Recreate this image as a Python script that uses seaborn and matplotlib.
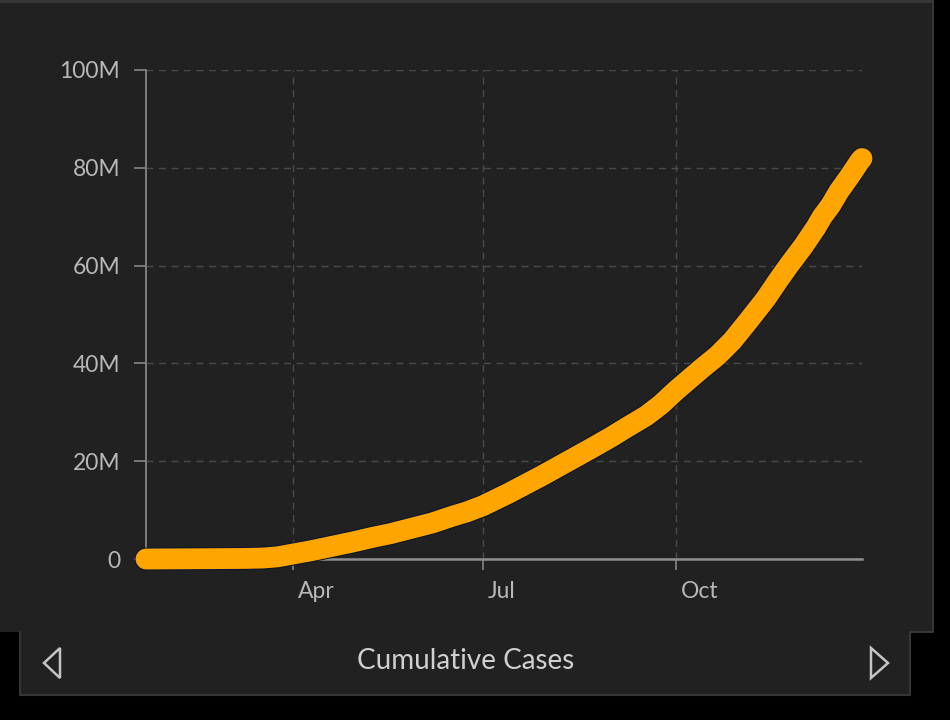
import matplotlib
matplotlib.use("Agg")
import matplotlib.pyplot as plt
import matplotlib.patheffects as pe
from matplotlib.patches import Rectangle, Polygon
from matplotlib.lines import Line2D
from matplotlib.transforms import ScaledTranslation
import pandas as pd
import seaborn as sns

# ---- data ----
dates = ["2020-01-22", "2020-02-10", "2020-03-01", "2020-03-10", "2020-03-18",
         "2020-03-25", "2020-04-01", "2020-04-10", "2020-04-20", "2020-04-30",
         "2020-05-09", "2020-05-18", "2020-05-28", "2020-06-07", "2020-06-16",
         "2020-06-23", "2020-07-01", "2020-07-13", "2020-07-21", "2020-07-29",
         "2020-08-06", "2020-08-14", "2020-08-22", "2020-08-31", "2020-09-08",
         "2020-09-17", "2020-09-24", "2020-10-01", "2020-10-07", "2020-10-13",
         "2020-10-21", "2020-10-28", "2020-11-04", "2020-11-13", "2020-11-19",
         "2020-11-24", "2020-12-01", "2020-12-07", "2020-12-10", "2020-12-14",
         "2020-12-18", "2020-12-23", "2020-12-28", "2020-12-29"]
cases_millions = [0.0, 0.04, 0.09, 0.12, 0.2,
                  0.45, 1.0, 1.7, 2.6, 3.5,
                  4.4, 5.2, 6.3, 7.4, 8.7,
                  9.6, 10.9, 13.4, 15.2, 17.0,
                  18.9, 20.8, 22.7, 24.9, 27.0,
                  29.3, 31.6, 34.4, 36.6, 38.8,
                  41.6, 44.6, 48.3, 53.2, 57.0,
                  60.0, 64.0, 67.8, 70.0, 72.3,
                  75.2, 78.2, 81.4, 81.9]
y_ticks_millions = [0, 20, 40, 60, 80, 100]
y_tick_labels = ["0", "20M", "40M", "60M", "80M", "100M"]
x_tick_dates = ["2020-04-01", "2020-07-01", "2020-10-01"]
x_tick_labels = ["Apr", "Jul", "Oct"]
title_text = "Cumulative Cases"

df = pd.DataFrame({"date": pd.to_datetime(dates),
                   "cases": [v * 1e6 for v in cases_millions]})

# ---- style ----
sns.set_theme(style="dark")
plt.rcParams["font.family"] = ["Lato", "DejaVu Sans"]

W, H = 950, 720
fig = plt.figure(figsize=(W / 100, H / 100), dpi=100, facecolor="black")


def fx(x):
    return x / W


def fy(y):
    return 1 - y / H


PANEL = "#212121"
EDGE = "#363636"

# top strip
fig.patches.append(Rectangle((0, fy(2.5)), fx(934), 2.5 / H, transform=fig.transFigure,
                             facecolor="#353535", edgecolor="none", zorder=-10))
# main panel
fig.patches.append(Rectangle((0, fy(632)), fx(934), (632 - 2.5) / H, transform=fig.transFigure,
                             facecolor=PANEL, edgecolor="none", zorder=-10))
# bottom panel
fig.patches.append(Rectangle((fx(20), fy(695)), fx(910 - 20), (695 - 632) / H,
                             transform=fig.transFigure, facecolor=PANEL,
                             edgecolor="none", zorder=-10))
# outline of the panels
outline_x = [933, 933, 910, 910, 20, 20]
outline_y = [3, 632, 632, 695, 695, 632]
fig.lines.append(Line2D([fx(v) for v in outline_x], [fy(v) for v in outline_y],
                        transform=fig.transFigure, color=EDGE, lw=1.5, zorder=-9))

# arrows
for pts in ([(44, 663), (60, 648), (60, 678)], [(888, 663), (871, 648), (871, 678)]):
    fig.patches.append(Polygon([(fx(a), fy(b)) for a, b in pts], closed=True,
                               transform=fig.transFigure, fill=False,
                               edgecolor="#c4c4c4", lw=1.8, joinstyle="miter", zorder=-8))

fig.text(fx(466), fy(661), title_text, ha="center", va="center",
         color="#d0d0d0", fontsize=20)

# ---- axes ----
ax = fig.add_axes([fx(146), fy(559), (862 - 146) / W, (559 - 70) / H])
ax.set_zorder(5)
ax.set_facecolor("none")
ax.patch.set_alpha(0)

sns.lineplot(data=df, x="date", y="cases", ax=ax, color="#FFA500",
             linewidth=15, solid_capstyle="round", solid_joinstyle="round",
             clip_on=False, zorder=5,
             path_effects=[pe.Stroke(linewidth=16.5, foreground="#0b1530"), pe.Normal()])

ax.set_xlim(df["date"].iloc[0], df["date"].iloc[-1])
ax.set_ylim(0, 100e6)
ax.set_yticks([v * 1e6 for v in y_ticks_millions])
ax.set_yticklabels(y_tick_labels)
ax.set_xticks(pd.to_datetime(x_tick_dates))
ax.set_xticklabels(x_tick_labels)
ax.set_xlabel("")
ax.set_ylabel("")

for s in ["top", "right"]:
    ax.spines[s].set_visible(False)
ax.spines["left"].set_color("#858585")
ax.spines["left"].set_linewidth(1.3)
ax.spines["bottom"].set_color("#8f8f8f")
ax.spines["bottom"].set_linewidth(1.8)

ax.grid(True, color="#4a4a4a", linestyle=(0, (5, 4)), linewidth=1.0)
ax.set_axisbelow(True)

ax.tick_params(axis="y", which="both", left=True, length=8.5, width=1.2,
               color="#858585", labelcolor="#b8b8b8", labelsize=16.5, pad=10, direction="out")
ax.tick_params(axis="x", which="both", bottom=True, length=8, width=1.2,
               color="#858585", labelcolor="#b8b8b8", labelsize=16.5, pad=8, direction="out")

offset = ScaledTranslation(0.05, 0, fig.dpi_scale_trans)
for lab in ax.get_xticklabels():
    lab.set_ha("left")
    lab.set_transform(lab.get_transform() + offset)

fig.savefig("out.png", dpi=100, facecolor="black")
